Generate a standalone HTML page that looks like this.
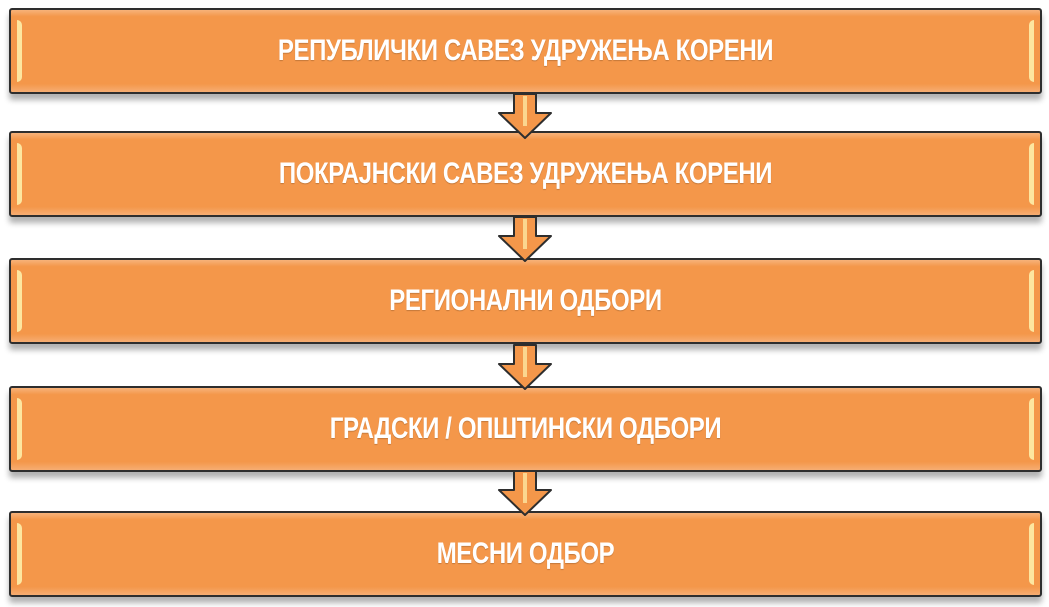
<!DOCTYPE html>
<html><head><meta charset="utf-8"><style>
html,body{margin:0;padding:0;background:#fff;width:1049px;height:607px;overflow:hidden;position:relative;font-family:"Liberation Sans",sans-serif}
.box{position:absolute;left:9px;width:1029px;height:82px;background:linear-gradient(#f7b27a 0,#f4974a 8%,#f4974a 90%,#f6ad72 100%);border:2px solid #2e2e2e;border-radius:3px;box-shadow:0 6px 6px rgba(0,0,0,0.3);}
.box .l,.box .r{position:absolute;top:10px;width:5px;height:62px;background:#fde6a0;}
.box .l{left:6px;border-radius:0 6px 6px 0}
.box .r{right:6px;border-radius:6px 0 0 6px}
.box span{position:absolute;left:0;right:0;top:50%;text-align:center;color:#fff;font-weight:bold;font-size:30px;transform:translateY(-50%) scaleX(0.8);white-space:nowrap;text-shadow:0 1px 1px rgba(0,0,0,0.2);letter-spacing:-0.5px}
svg{position:absolute;left:0;top:0}
</style></head><body>
<div class="box" style="top:8px"><div class="l"></div><div class="r"></div><span>РЕПУБЛИЧКИ САВЕЗ УДРУЖЕЊА КОРЕНИ</span></div>
<div class="box" style="top:131px"><div class="l"></div><div class="r"></div><span>ПОКРАЈНСКИ САВЕЗ УДРУЖЕЊА КОРЕНИ</span></div>
<div class="box" style="top:258px"><div class="l"></div><div class="r"></div><span>РЕГИОНАЛНИ ОДБОРИ</span></div>
<div class="box" style="top:386px"><div class="l"></div><div class="r"></div><span>ГРАДСКИ / ОПШТИНСКИ ОДБОРИ</span></div>
<div class="box" style="top:511px"><div class="l"></div><div class="r"></div><span>МЕСНИ ОДБОР</span></div>
<svg width="1049" height="607">
<g id="a">
<path d="M514 94 L536 94 L536 113 L551 113 L525 138 L499 113 L514 113 Z" fill="#f4974a" stroke="#2e2e2e" stroke-width="2" stroke-linejoin="round"/>
<rect x="523" y="96" width="4" height="30" fill="#fde6a0" opacity="0.8"/>
</g>
<use href="#a" y="123"/>
<use href="#a" y="251"/>
<use href="#a" y="377"/>
</svg>
</body></html>
